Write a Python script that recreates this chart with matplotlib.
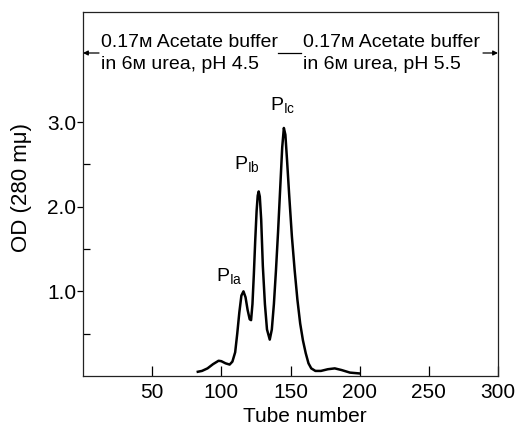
import matplotlib
matplotlib.use("Agg")
import matplotlib.pyplot as plt
from matplotlib.ticker import FixedLocator

FAM = ['Liberation Sans Narrow', 'DejaVu Sans Condensed', 'Liberation Sans', 'DejaVu Sans']
plt.rcParams['font.family'] = FAM

# Elution profile (tube number, OD at 280 mμ)
tubes = [83, 86, 90, 94, 98, 100, 103, 106, 108, 110, 111.5, 113, 114.5, 116,
         117.5, 119, 120.5, 121.5, 122.5, 123.5, 124.5, 125.5, 126.3, 127,
         127.8, 128.8, 130, 131.5, 133, 135, 136.5, 138, 139.5, 141, 142.5,
         144, 145.2, 146.3, 147.5, 149, 151, 153, 155, 157, 159, 161, 163,
         165, 168, 172, 177, 182, 187, 193, 200]
od = [0.05, 0.06, 0.09, 0.14, 0.18, 0.175, 0.15, 0.135, 0.17, 0.28, 0.50,
      0.75, 0.95, 1.00, 0.93, 0.78, 0.67, 0.66, 0.85, 1.20, 1.60, 1.95, 2.13,
      2.18, 2.12, 1.85, 1.30, 0.85, 0.55, 0.43, 0.55, 0.85, 1.25, 1.70, 2.20,
      2.70, 2.93, 2.85, 2.55, 2.15, 1.65, 1.25, 0.90, 0.62, 0.42, 0.27, 0.15,
      0.09, 0.06, 0.06, 0.08, 0.09, 0.07, 0.04, 0.03]

peak_labels = ['Ia', 'Ib', 'Ic']
peak_label_pos = [(106, 1.12), (118.5, 2.45), (144.6, 3.14)]

xticks = [50, 100, 150, 200, 250, 300]
yticks = [1.0, 2.0, 3.0]
yminor = [0.5, 1.5, 2.5]

buffer_left = ["0.17\u1d0d Acetate buffer", "in 6\u1d0d urea, pH 4.5"]
buffer_right = ["0.17\u1d0d Acetate buffer", "in 6\u1d0d urea, pH 5.5"]

W, H = 522, 438
fig = plt.figure(figsize=(W / 100, H / 100), dpi=100)
L, R, B, T = 83, 498, 376, 12
ax = fig.add_axes([L / W, 1 - B / H, (R - L) / W, (B - T) / H])

ax.plot(tubes, od, color='black', lw=1.8, solid_joinstyle='round')

ax.set_xlim(0, 300)
ax.set_ylim(0, 4.30)
ax.set_xticks(xticks)
ax.set_xticklabels([str(v) for v in xticks])
ax.set_yticks(yticks)
ax.set_yticklabels([f"{v:.1f}" for v in yticks])
ax.yaxis.set_minor_locator(FixedLocator(yminor))
ax.xaxis.set_minor_locator(FixedLocator([]))

ax.tick_params(axis='x', which='major', direction='in', length=7, width=0.9,
               labelsize=15, pad=5, top=False)
ax.tick_params(axis='y', which='major', direction='out', length=4, width=0.9,
               labelsize=15, pad=1, right=False)
ax.tick_params(axis='y', which='minor', direction='in', length=5, width=0.9,
               right=False)
for s in ax.spines.values():
    s.set_linewidth(0.9)
    s.set_color('#222222')

ax.set_xlabel("Tube number", fontsize=15)
ax.xaxis.set_label_coords((305 - L) / (R - L), -(417 - B) / (B - T), transform=ax.transAxes)
ax.xaxis.label.set_verticalalignment('center')
ax.set_ylabel("OD (280 m\u03bc)", fontsize=16)
ax.yaxis.set_label_coords(-(L - 22) / (R - L), (B - 188) / (B - T))
ax.yaxis.label.set_verticalalignment('center')

def fx(px):
    return (px - L) / (R - L)

def fy(py):
    return (B - py) / (B - T)

# buffer annotations
for lines, x0 in ((buffer_left, 101), (buffer_right, 303)):
    ax.text(fx(x0), fy(47), lines[0], transform=ax.transAxes, fontsize=14,
            ha='left', va='baseline')
    ax.text(fx(x0), fy(69), lines[1], transform=ax.transAxes, fontsize=14,
            ha='left', va='baseline')

arrow_kw = dict(arrowstyle='-|>', color='black', lw=0.9, mutation_scale=7,
                shrinkA=0, shrinkB=0)
ax.annotate('', xy=(fx(L), fy(53)), xytext=(fx(99), fy(53)),
            xycoords='axes fraction', textcoords='axes fraction', arrowprops=arrow_kw)
ax.annotate('', xy=(fx(R), fy(53)), xytext=(fx(483), fy(53)),
            xycoords='axes fraction', textcoords='axes fraction', arrowprops=arrow_kw)
ax.plot([fx(278), fx(301)], [fy(53), fy(53)], transform=ax.transAxes,
        color='black', lw=0.9)

# peak labels
for lab, (px, py) in zip(peak_labels, peak_label_pos):
    ax.text(px, py, r"$\mathregular{P_{%s}}$" % lab, fontsize=14,
            ha='center', va='baseline')

fig.savefig("out.png", dpi=100)
